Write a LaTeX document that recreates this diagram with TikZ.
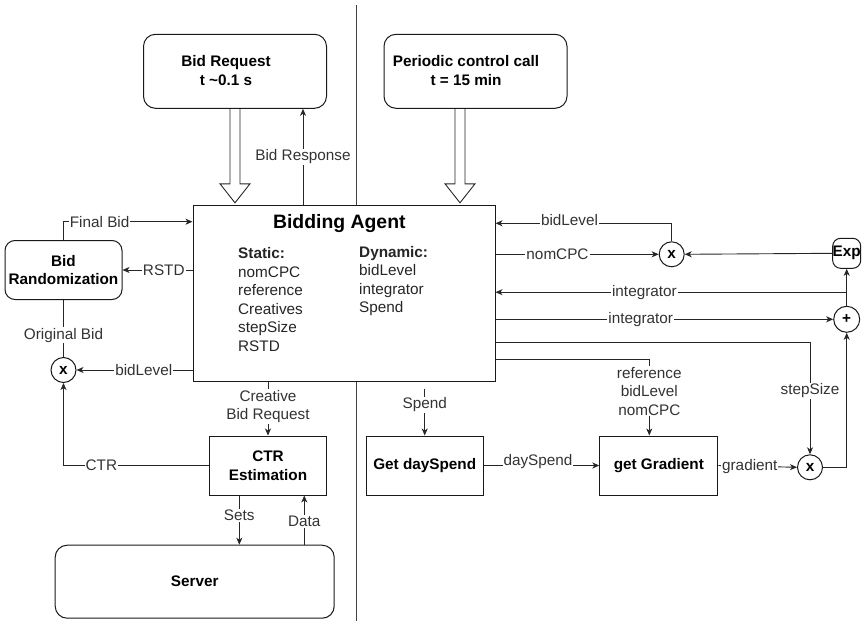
\documentclass[tikz,border=0pt]{standalone}
\usepackage{fontspec}
\setmainfont{Liberation Sans}
\usetikzlibrary{arrows.meta}

\begin{document}
\begin{tikzpicture}[
    x=1pt, y=-1pt,
    every node/.style={
        font=\fontsize{15.3}{18.5}\selectfont
    },
    block/.style={
        rectangle,
        draw=black!90,
        fill=white,
        line width=1pt,
        minimum width=117,
        minimum height=59,
        align=center,
        inner sep=0pt,
        font=\fontsize{15.3}{18.5}\selectfont\bfseries
    },
    rblock/.style={
        block,
        rounded corners=10pt
    },
    junction/.style={
        circle,
        draw=black!90,
        fill=white,
        line width=1pt,
        minimum size=25,
        inner sep=0pt,
        font=\fontsize{15.3}{18.5}\selectfont\bfseries
    },
    link/.style={
        -{Stealth[length=7pt, width=6pt, inset=2pt]},
        line width=0.9pt,
        draw=black!85
    },
    plain_link/.style={
        line width=0.9pt,
        draw=black!85
    },
    hollow_arrow/.style={
        line width=0.9pt,
        draw=black!85
    },
    divider/.style={
        line width=1pt,
        draw=black!75
    },
    label_text/.style={
        fill=white,
        inner sep=1pt,
        align=center,
        text=black!80,
        font=\fontsize{15.3}{18.5}\selectfont
    },
    box_text/.style={
        align=center,
        inner sep=0pt,
        font=\fontsize{15.3}{18.5}\selectfont\bfseries
    }
]
    \useasboundingbox (0,0) rectangle (862,621);

    % SPLIT BETWEEN REQUEST PATH AND CONTROL PATH (drawn first, boxes cover it)
    \draw[divider] (356,5) -- (356,621);

    % TRIGGERS (Top)
    \node[rblock, minimum width=183, minimum height=74, rounded corners=12pt] (request) at (235,71.3) {};
    \node[box_text] (request_text) at (226,70.5) {Bid Request\\t \textasciitilde 0.1 s};
    \node[rblock, minimum width=183, minimum height=74, rounded corners=12pt] (control) at (475.5,71.3) {};
    \node[box_text] (control_text) at (466,70.5) {Periodic control call\\t = 15 min};

    % CENTRAL AGENT
    \node[block, minimum width=302, minimum height=176] (agent) at (344,293) {};
    \node[font=\fontsize{19.4}{22}\selectfont\bfseries] (agent_title) at (339.3,223.3) {Bidding Agent};
    \node[anchor=west, align=left, inner sep=0pt, text=black!85] (static) at (238,299.7)
        {\textbf{Static:}\\nomCPC\\reference\\Creatives\\stepSize\\RSTD};
    \node[anchor=west, align=left, inner sep=0pt, text=black!85] (dynamic) at (359,281.2)
        {\textbf{Dynamic:}\\bidLevel\\integrator\\Spend};

    % BID SIDE (Left)
    \node[rblock] (randomizer) at (63.5,270) {Bid\\Randomization};
    \node[junction] (mul_bid) at (63.5,370) {x};
    \node[block] (ctr) at (268,465.5) {CTR\\Estimation};
    \node[rblock, minimum width=279, minimum height=73, rounded corners=12pt] (server) at (194.7,581.7) {Server};

    % CONTROL SIDE (Right)
    \node[junction] (mul_cpc) at (671.7,254.3) {x};
    \node[rblock, minimum width=28, minimum height=30, rounded corners=8pt] (exp) at (846.7,253.3) {Exp};
    \node[junction, minimum size=26] (sum) at (846.7,319.3) {+};
    \node[junction] (mul_step) at (810,467.3) {x};
    \node[block] (day_spend) at (424.7,465.5) {Get daySpend};
    \node[block, minimum width=118] (gradient) at (658.8,465.5) {get Gradient};

    % TAP POINTS ON THE AGENT
    \coordinate (response_out) at ([xshift=-41pt]agent.north);
    \coordinate (final_bid_in) at ([yshift=71.3pt]agent.west);
    \coordinate (bid_level_in) at ([yshift=69.7pt]agent.east);
    \coordinate (step_size_out) at ([yshift=-49.7pt]agent.east);
    \coordinate (gradient_inputs_out) at ([yshift=-66pt]agent.east);
    \coordinate (spend_out) at ([yshift=-7pt]agent.south);
    \coordinate (integrator_tap) at ([yshift=13.6pt]sum.north);
    \coordinate (gradient_in) at ([xshift=-9.5pt]gradient.north);
    \coordinate (sets_out) at ([xshift=-28.7pt]ctr.south);
    \coordinate (data_in) at ([xshift=36.3pt]ctr.south);

    % TRIGGER ARROWS
    \draw[hollow_arrow] ([xshift=-5pt]request.south) -- ++(0,75) -- ++(-10,0) -- ++(15,19) -- ++(15,-19) -- ++(-10,0) -- ++(0,-75);
    \draw[hollow_arrow] ([xshift=-20.5pt]control.south) -- ++(0,75) -- ++(-10,0) -- ++(15,19) -- ++(15,-19) -- ++(-10,0) -- ++(0,-75);
    \draw[link] (response_out) -- (response_out |- request.south) node[label_text, pos=0.5] {Bid Response};

    % BID LINKS
    \draw[link] (randomizer.north) |- (final_bid_in) node[label_text, pos=0.64] {Final Bid};
    \draw[link] (agent.west |- randomizer.east) -- (randomizer.east) node[label_text, pos=0.41] {RSTD};
    \draw[plain_link] (mul_bid.north) -- (randomizer.south) node[label_text, pos=0.38] {Original Bid};
    \draw[link] (agent.west |- mul_bid.east) -- (mul_bid.east) node[label_text, pos=0.42] {bidLevel};
    \draw[link] (ctr.west) -| (mul_bid.south) node[label_text, pos=0.37] {CTR};
    \draw[link] (agent.south -| ctr.north) -- (ctr.north) node[label_text, pos=0.46] {Creative\\Bid Request};
    \draw[link] (sets_out) -- (sets_out |- server.north) node[label_text, pos=0.4] {Sets};
    \draw[link] (data_in |- server.north) -- (data_in) node[label_text, pos=0.47] {Data};

    % CONTROL LOOP LINKS
    \draw[link] (mul_cpc.north) |- (bid_level_in) node[label_text, pos=0.79, yshift=3pt] {bidLevel};
    \draw[link] (agent.east |- mul_cpc.west) -- (mul_cpc.west) node[label_text, pos=0.38] {nomCPC};
    \draw[link] (exp.west) -- (mul_cpc.east);
    \draw[link] (sum.north) -- (exp.south);
    \draw[link] (integrator_tap) -- (agent.east |- integrator_tap) node[label_text, pos=0.576] {integrator};
    \draw[link] (agent.east |- sum.west) -- (sum.west) node[label_text, pos=0.43] {integrator};
    \draw[link] (step_size_out) -| (mul_step.north) node[label_text, pos=0.716] {stepSize};
    \draw[link] (gradient_inputs_out) -| (gradient_in) node[label_text, pos=0.71] {reference\\bidLevel\\nomCPC};
    \draw[link] (spend_out -| day_spend.north) -- (day_spend.north) node[label_text, pos=0.35] {Spend};
    \draw[link] (day_spend.east) -- (gradient.west) node[label_text, pos=0.47, yshift=4pt] {daySpend};
    \draw[link] (gradient.east) -- (mul_step.west) node[label_text, pos=0.4] {gradient};
    \draw[link] (mul_step.east) -| (sum.south);

\end{tikzpicture}
\end{document}
